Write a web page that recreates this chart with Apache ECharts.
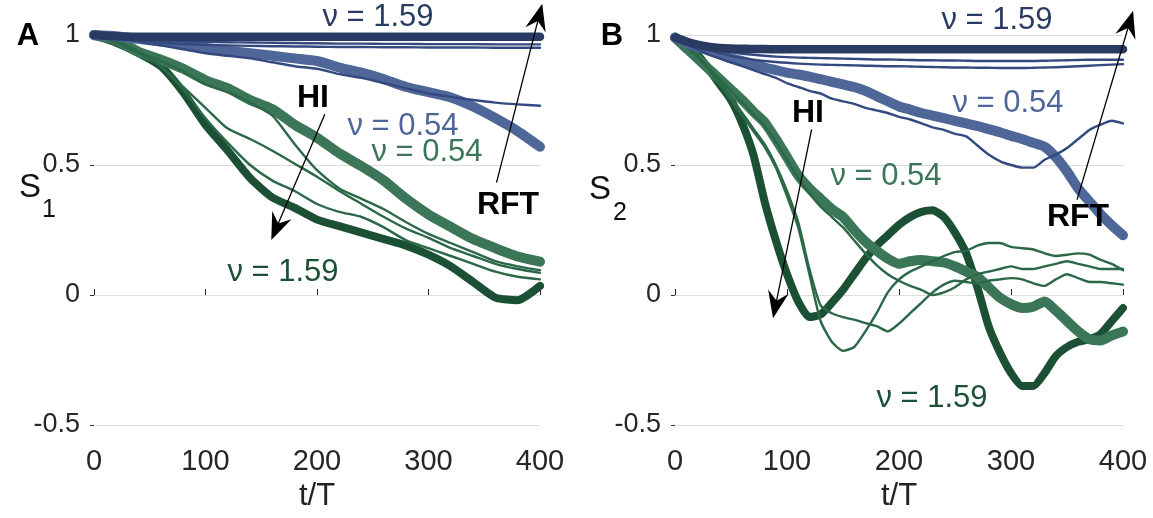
<!DOCTYPE html>
<html>
<head>
<meta charset="utf-8">
<script src="https://cdn.jsdelivr.net/npm/echarts@6/dist/echarts.min.js"></script>
<style>
  html, body { margin: 0; padding: 0; background: #fff; }
  #chart { width: 1153px; height: 518px; }
</style>
</head>
<body>
<div id="chart"></div>
<script>
  // time samples (t/T)
  const tA = [0, 20, 40, 60, 80, 100, 120, 140, 160, 180, 200, 220, 240, 260, 280, 300, 320, 340, 360, 380, 400];
  const tB = [0, 10, 20, 30, 40, 50, 60, 70, 80, 90, 100, 110, 120, 130, 140, 150, 160, 170, 180, 190, 200,
              210, 220, 230, 240, 250, 260, 270, 280, 290, 300, 310, 320, 330, 340, 350, 360, 370, 380, 390, 400];

  // panel A, S1
  const navyA = [1, .995, .993, .993, .993, .993, .993, .993, .993, .993, .993, .993, .993, .993, .993, .993, .993, .993, .993, .993, .993];
  const thinBlueA1 = [1, .99, .984, .979, .976, .974, .972, .971, .97, .969, .968, .967, .967, .966, .966, .965, .965, .965, .964, .964, .964];
  const thinBlueA2 = [1, .988, .978, .97, .965, .962, .96, .958, .957, .956, .955, .954, .954, .953, .953, .952, .952, .952, .951, .951, .951];
  const thinBlueA3 = [1, .99, .975, .96, .945, .93, .92, .91, .895, .88, .87, .85, .835, .815, .795, .775, .762, .75, .74, .733, .728];
  const slateA = [1, .995, .985, .975, .965, .95, .94, .93, .92, .91, .9, .875, .855, .83, .8, .78, .76, .725, .68, .63, .57];
  const darkGreenA = [1, .97, .93, .88, .78, .655, .555, .45, .375, .335, .29, .265, .24, .215, .19, .155, .11, .05, -.01, -.02, .035];
  const midGreenA = [1, .98, .935, .905, .87, .826, .795, .75, .715, .655, .605, .545, .495, .44, .37, .31, .262, .215, .18, .148, .128];
  const thinGreenA1 = [1, .975, .935, .88, .8, .72, .64, .6, .555, .505, .455, .4, .35, .3, .255, .22, .18, .15, .12, .1, .085];
  const thinGreenA2 = [1, .98, .935, .9, .86, .81, .78, .74, .69, .58, .48, .41, .37, .33, .28, .235, .2, .165, .13, .11, .095];
  const thinGreenA3 = [1, .97, .93, .88, .79, .68, .585, .5, .44, .4, .35, .32, .3, .26, .21, .18, .15, .12, .09, .07, .06];

  // panel B, S2
  const navyB = [0.99, 0.975, 0.963, 0.955, 0.95, 0.948, 0.947, 0.946, 0.946, 0.945,
    0.945, 0.945, 0.945, 0.945, 0.945, 0.945, 0.945, 0.945, 0.945, 0.945,
    0.945, 0.945, 0.945, 0.945, 0.945, 0.945, 0.945, 0.945, 0.945, 0.945,
    0.945, 0.945, 0.945, 0.945, 0.945, 0.945, 0.945, 0.945, 0.945, 0.945, 0.945];
  const thinBlueB1 = [0.99, 0.972, 0.955, 0.942, 0.93, 0.92, 0.912, 0.905, 0.9, 0.896,
    0.893, 0.89, 0.888, 0.886, 0.885, 0.884, 0.883, 0.882, 0.881, 0.88,
    0.88, 0.879, 0.878, 0.877, 0.876, 0.875, 0.875, 0.874, 0.874, 0.873,
    0.873, 0.873, 0.874, 0.875, 0.876, 0.878, 0.88, 0.882, 0.884, 0.886, 0.888];
  const thinBlueB2 = [0.99, 0.975, 0.96, 0.95, 0.94, 0.933, 0.928, 0.924, 0.92, 0.917,
    0.915, 0.913, 0.912, 0.911, 0.91, 0.909, 0.908, 0.907, 0.906, 0.906,
    0.905, 0.904, 0.903, 0.903, 0.902, 0.902, 0.901, 0.9, 0.9, 0.9,
    0.9, 0.9, 0.9, 0.901, 0.902, 0.903, 0.904, 0.905, 0.905, 0.905, 0.905];
  const thinBlueB3 = [0.99, 0.965, 0.945, 0.925, 0.91, 0.895, 0.88, 0.865, 0.85, 0.835,
    0.815, 0.8, 0.785, 0.775, 0.755, 0.745, 0.735, 0.72, 0.71, 0.7,
    0.685, 0.675, 0.66, 0.645, 0.635, 0.62, 0.61, 0.575, 0.54, 0.515,
    0.5, 0.49, 0.49, 0.52, 0.54, 0.565, 0.6, 0.635, 0.655, 0.67, 0.66];
  const slateB = [0.99, 0.97, 0.955, 0.94, 0.925, 0.91, 0.9, 0.887, 0.875, 0.865,
    0.855, 0.848, 0.84, 0.83, 0.82, 0.81, 0.8, 0.785, 0.765, 0.745,
    0.725, 0.713, 0.7, 0.69, 0.68, 0.67, 0.66, 0.65, 0.638, 0.626,
    0.612, 0.6, 0.585, 0.57, 0.53, 0.475, 0.41, 0.36, 0.31, 0.268, 0.23];
  const darkGreenB = [0.99, 0.96, 0.925, 0.87, 0.81, 0.75, 0.66, 0.54, 0.36, 0.21,
    0.08, -0.025, -0.085, -0.075, -0.03, 0.02, 0.08, 0.14, 0.19, 0.23,
    0.27, 0.3, 0.32, 0.326, 0.3, 0.24, 0.16, 0.03, -0.12, -0.22,
    -0.3, -0.35, -0.35, -0.3, -0.235, -0.2, -0.18, -0.17, -0.15, -0.1, -0.05];
  const midGreenB = [0.99, 0.95, 0.91, 0.87, 0.83, 0.79, 0.75, 0.705, 0.664, 0.6,
    0.53, 0.46, 0.41, 0.37, 0.33, 0.3, 0.25, 0.205, 0.17, 0.14,
    0.12, 0.13, 0.135, 0.13, 0.125, 0.11, 0.09, 0.07, 0.03, -0.01,
    -0.035, -0.05, -0.045, -0.025, -0.06, -0.1, -0.14, -0.17, -0.175, -0.155, -0.14];
  const thinGreenB1 = [0.99, 0.96, 0.92, 0.87, 0.81, 0.75, 0.69, 0.63, 0.57, 0.49,
    0.38, 0.26, 0.08, -0.1, -0.18, -0.215, -0.2, -0.14, -0.07, 0.01,
    0.06, 0.09, 0.11, 0.13, 0.15, 0.165, 0.17, 0.19, 0.2, 0.2,
    0.185, 0.18, 0.175, 0.16, 0.15, 0.155, 0.16, 0.155, 0.135, 0.12, 0.095];
  const thinGreenB2 = [0.99, 0.96, 0.92, 0.875, 0.82, 0.76, 0.7, 0.64, 0.58, 0.5,
    0.4, 0.28, 0.1, -0.04, -0.07, -0.085, -0.095, -0.108, -0.12, -0.14,
    -0.11, -0.07, -0.03, 0.01, 0.04, 0.055, 0.05, 0.045, 0.055, 0.06,
    0.065, 0.06, 0.045, 0.035, 0.06, 0.08, 0.065, 0.05, 0.05, 0.045, 0.04];
  const thinGreenB3 = [0.99, 0.955, 0.915, 0.872, 0.83, 0.785, 0.74, 0.695, 0.65, 0.59,
    0.52, 0.45, 0.39, 0.34, 0.3, 0.26, 0.21, 0.16, 0.115, 0.08,
    0.055, 0.035, 0.02, 0.0, 0.01, 0.03, 0.06, 0.08, 0.09, 0.1,
    0.11, 0.1, 0.1, 0.11, 0.12, 0.13, 0.12, 0.11, 0.1, 0.1, 0.1];

  // arrows in data units: [from t, from S, to t, to S]
  const arrowsA = [[207, 0.695, 159, 0.212], [361, 0.432, 402, 1.12]];
  const arrowsB = [[122, 0.637, 87.5, -0.089], [359, 0.367, 409, 1.093]];

  const FONT = "'Liberation Sans', Arial, Helvetica, sans-serif";
  const C = {
    navy: '#2a3b63', slate: '#4f6698', thinBlue: '#34497f',
    dark: '#1b5035', mid: '#3b7658', thinGreen: '#2b6847'
  };

  const line = (g, t, vals, color, width) => ({
    type: 'line', xAxisIndex: g, yAxisIndex: g,
    data: t.map((x, i) => [x, vals[i]]),
    symbol: 'none', showSymbol: false, clip: false, silent: true,
    smooth: 0.2,
    lineStyle: { color, width, cap: 'round', join: 'round' },
    z: 2
  });

  const xAxis = (g) => ({
    type: 'value', gridIndex: g, min: 0, max: 400, interval: 100,
    name: 't/T', nameLocation: 'middle', nameGap: 56,
    nameTextStyle: { fontSize: 31, color: '#222', fontFamily: FONT },
    axisLine: { show: true, lineStyle: { color: '#dcdcdc', width: 1 } },
    axisTick: { show: true, inside: true, length: 6, lineStyle: { color: '#222' } },
    axisLabel: { fontSize: 29, color: '#262626', fontFamily: FONT, margin: 22 },
    splitLine: { show: false }
  });

  const yAxis = (g) => ({
    type: 'value', gridIndex: g, min: -0.5, max: 1, interval: 0.5, offset: 6,
    axisLine: { show: false },
    axisTick: { show: true, length: 4, lineStyle: { color: '#333' } },
    axisLabel: { fontSize: 27, color: '#262626', fontFamily: FONT, margin: 8 },
    splitLine: { show: true, lineStyle: { color: '#dcdcdc', width: 1 } }
  });

  const panel = (g, t, d) => [
    line(g, t, d.darkGreen, C.dark, 8),
    line(g, t, d.midGreen, C.mid, 10),
    line(g, t, d.thinGreen1, C.thinGreen, 2.4),
    line(g, t, d.thinGreen2, C.thinGreen, 2.4),
    line(g, t, d.thinGreen3, C.thinGreen, 2.4),
    line(g, t, d.slate, C.slate, 10),
    line(g, t, d.thinBlue1, C.thinBlue, 2.4),
    line(g, t, d.thinBlue2, C.thinBlue, 2.4),
    line(g, t, d.thinBlue3, C.thinBlue, 2.4),
    line(g, t, d.navy, C.navy, 8.5)
  ];

  const txt = (text, x, y, size, color, bold) => ({
    type: 'text', silent: true, z: 10,
    style: {
      text, x, y, fill: color,
      font: (bold ? 'bold ' : '') + size + 'px ' + FONT,
      align: 'center', verticalAlign: 'middle',
      textAlign: 'center', textVerticalAlign: 'middle'
    }
  });

  const labels = [
    txt('A', 28, 36, 31, '#000', true),
    txt('S', 30, 188, 33, '#111', false),
    txt('1', 49, 210, 25, '#111', false),
    txt('ν = 1.59', 378, 17, 31, C.navy, false),
    txt('HI', 313, 98, 32, '#000', true),
    txt('ν = 0.54', 403, 126, 31, C.slate, false),
    txt('ν = 0.54', 427, 152, 31, C.mid, false),
    txt('RFT', 508, 205, 32, '#000', true),
    txt('ν = 1.59', 283, 272, 31, C.dark, false),

    txt('B', 612, 36, 31, '#000', true),
    txt('S', 600, 190, 33, '#111', false),
    txt('2', 620, 213, 25, '#111', false),
    txt('ν = 1.59', 997, 20, 31, C.navy, false),
    txt('HI', 808, 113, 32, '#000', true),
    txt('ν = 0.54', 1008, 103, 31, C.slate, false),
    txt('ν = 0.54', 886, 176, 31, C.mid, false),
    txt('RFT', 1078, 217, 32, '#000', true),
    txt('ν = 1.59', 932, 398, 31, C.dark, false)
  ];

  const chart = echarts.init(document.getElementById('chart'), null, { renderer: 'canvas' });

  chart.setOption({
    animation: false,
    backgroundColor: '#fff',
    grid: [
      { left: 94, top: 35, width: 446, height: 390 },
      { left: 675, top: 35, width: 448, height: 390 }
    ],
    xAxis: [xAxis(0), xAxis(1)],
    yAxis: [yAxis(0), yAxis(1)],
    series: [
      ...panel(0, tA, {
        darkGreen: darkGreenA, midGreen: midGreenA,
        thinGreen1: thinGreenA1, thinGreen2: thinGreenA2, thinGreen3: thinGreenA3,
        slate: slateA, thinBlue1: thinBlueA1, thinBlue2: thinBlueA2, thinBlue3: thinBlueA3, navy: navyA
      }),
      ...panel(1, tB, {
        darkGreen: darkGreenB, midGreen: midGreenB,
        thinGreen1: thinGreenB1, thinGreen2: thinGreenB2, thinGreen3: thinGreenB3,
        slate: slateB, thinBlue1: thinBlueB1, thinBlue2: thinBlueB2, thinBlue3: thinBlueB3, navy: navyB
      })
    ],
    graphic: labels
  });

  // annotation arrows, placed through the axes' own scales
  const arrowGraphics = (g, list) => {
    const out = [];
    list.forEach(a => {
      const p0 = chart.convertToPixel({ gridIndex: g }, [a[0], a[1]]);
      const p1 = chart.convertToPixel({ gridIndex: g }, [a[2], a[3]]);
      const dx = p1[0] - p0[0], dy = p1[1] - p0[1];
      const len = Math.hypot(dx, dy);
      const ux = dx / len, uy = dy / len, nx = -uy, ny = ux;
      const L = 27, W = 10.5;
      const bx = p1[0] - ux * L, by = p1[1] - uy * L;
      out.push({
        type: 'line', silent: true, z: 9,
        shape: { x1: p0[0], y1: p0[1], x2: p1[0] - ux * 14, y2: p1[1] - uy * 14 },
        style: { stroke: '#000', lineWidth: 1.3 }
      });
      out.push({
        type: 'polygon', silent: true, z: 9,
        shape: {
          points: [
            [p1[0], p1[1]],
            [bx + nx * W, by + ny * W],
            [p1[0] - ux * L * 0.66, p1[1] - uy * L * 0.66],
            [bx - nx * W, by - ny * W]
          ]
        },
        style: { fill: '#000' }
      });
    });
    return out;
  };

  chart.setOption({
    graphic: labels.concat(arrowGraphics(0, arrowsA), arrowGraphics(1, arrowsB))
  });

  window.addEventListener('resize', () => chart.resize());
</script>
</body>
</html>
